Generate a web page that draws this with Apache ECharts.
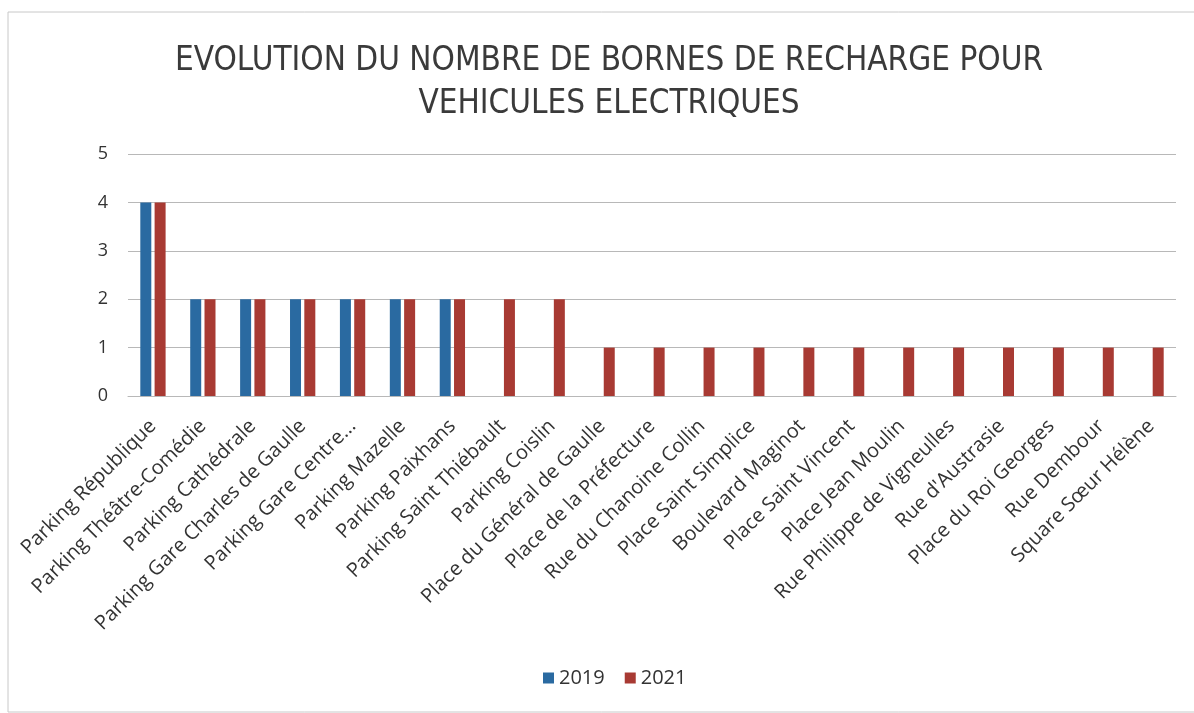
<!DOCTYPE html>
<html>
<head>
    <meta charset="utf-8">
    <title>Bornes de recharge</title>
    <script src="https://cdn.jsdelivr.net/npm/echarts@6/dist/echarts.min.js"></script>
    <style>
        html, body { margin: 0; padding: 0; background: #fff; }
    </style>
</head>
<body>
    <div id="main" style="width: 1194px;height:713px;"></div>
    <script type="text/javascript">
        var categories = [
            'Parking République', 'Parking Théâtre-Comédie', 'Parking Cathédrale',
            'Parking Gare Charles de Gaulle', 'Parking Gare Centre...', 'Parking Mazelle',
            'Parking Paixhans', 'Parking Saint Thiébault', 'Parking Coislin',
            'Place du Général de Gaulle', 'Place de la Préfecture', 'Rue du Chanoine Collin',
            'Place Saint Simplice', 'Boulevard Maginot', 'Place Saint Vincent',
            'Place Jean Moulin', 'Rue Philippe de Vigneulles', "Rue d'Austrasie",
            'Place du Roi Georges', 'Rue Dembour', 'Square Sœur Hélène'
        ];
        var values2019 = [4, 2, 2, 2, 2, 2, 2, null, null, null, null, null, null, null, null, null, null, null, null, null, null];
        var values2021 = [4, 2, 2, 2, 2, 2, 2, 2, 2, 1, 1, 1, 1, 1, 1, 1, 1, 1, 1, 1, 1];
        var yTicks = [0, 1, 2, 3, 4, 5];

        var chartDom = document.getElementById('main');
        var myChart = echarts.init(chartDom);
        var option;

        var labelFont = '"Open Sans", "Liberation Sans", sans-serif';

        option = {
            backgroundColor: '#fff',
            animation: false,
            graphic: [{
                type: 'rect',
                shape: { x: 8, y: 12, width: 1200, height: 700 },
                style: { fill: null, stroke: '#c8c8c8', lineWidth: 1 }
            }],
            title: {
                text: 'EVOLUTION DU NOMBRE DE BORNES DE RECHARGE POUR\nVEHICULES ELECTRIQUES',
                left: 604,
                textAlign: 'center',
                top: 35,
                textStyle: {
                    fontFamily: '"DejaVu Sans", sans-serif',
                    // canvas font shorthand: weight slot also carries the stretch keyword
                    fontWeight: 'normal condensed',
                    fontSize: 33,
                    lineHeight: 43,
                    color: '#3a3a3a'
                }
            },
            legend: {
                data: ['2019', '2021'],
                bottom: 20,
                left: 538,
                itemWidth: 11,
                itemHeight: 11,
                itemGap: 20,
                icon: 'rect',
                textStyle: {
                    fontFamily: labelFont,
                    fontSize: 20,
                    color: '#333'
                }
            },
            grid: {
                left: 128,
                right: 18,
                top: 154,
                bottom: 317,
                containLabel: false
            },
            xAxis: {
                type: 'category',
                data: categories,
                axisTick: { show: false },
                axisLine: { show: true, lineStyle: { color: '#b8b8b8' } },
                axisLabel: {
                    interval: 0,
                    rotate: 45,
                    fontFamily: labelFont,
                    fontSize: 20,
                    color: '#333',
                    margin: 27
                }
            },
            yAxis: {
                type: 'value',
                min: 0,
                max: yTicks[yTicks.length - 1],
                interval: 1,
                axisLine: { show: false },
                axisTick: { show: false },
                splitLine: { lineStyle: { color: '#b8b8b8' } },
                axisLabel: {
                    fontFamily: labelFont,
                    fontSize: 18,
                    color: '#333',
                    margin: 20
                }
            },
            series: [{
                name: '2019',
                type: 'bar',
                data: values2019,
                barWidth: 11,
                barGap: '30%',
                itemStyle: { color: '#2a6aa1' }
            }, {
                name: '2021',
                type: 'bar',
                data: values2021,
                barWidth: 11,
                itemStyle: { color: '#a83a33' }
            }]
        };

        option && myChart.setOption(option);
    </script>
</body>
</html>
